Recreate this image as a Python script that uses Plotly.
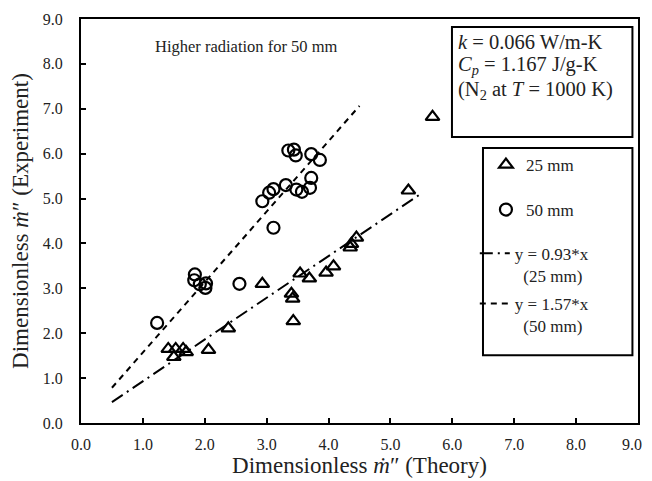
import plotly.graph_objects as go

# 25 mm data (triangles)
x25 = [1.41, 1.53, 1.65, 1.70, 1.50, 2.06, 2.38, 2.93, 3.40, 3.42, 3.43, 3.54, 3.69, 3.96, 4.08, 4.35, 4.37, 4.45, 5.29, 5.68]
y25 = [1.65, 1.65, 1.65, 1.58, 1.47, 1.63, 2.11, 3.10, 2.88, 2.77, 2.27, 3.33, 3.22, 3.35, 3.49, 3.91, 3.99, 4.13, 5.18, 6.82]

# 50 mm data (circles)
x50 = [1.23, 1.84, 1.83, 1.92, 2.02, 2.01, 2.56, 2.93, 3.04, 3.11, 3.11, 3.31, 3.35, 3.44, 3.47, 3.48, 3.57, 3.70, 3.72, 3.72, 3.86]
y50 = [2.23, 3.31, 3.18, 3.09, 3.11, 3.01, 3.10, 4.94, 5.13, 5.21, 4.35, 5.30, 6.07, 6.09, 5.96, 5.20, 5.15, 5.24, 5.46, 5.99, 5.86]

# fit lines
fit25_x = [0.5, 5.5]
fit25_y = [0.465, 5.115]
fit50_x = [0.5, 4.5]
fit50_y = [0.785, 7.065]

NB = "\u00a0"
tick_vals = [0, 1, 2, 3, 4, 5, 6, 7, 8, 9]
x_tick_text = ["0.0", "1.0", "2.0", "3.0", "4.0", "5.0", "6.0", "7.0", "8.0", "9.0" + NB * 3]
y_tick_text = ["0.0", "1.0", "2.0", "3.0", "4.0", "5.0", "6.0", "7.0", "8.0", "9.0"]

box_lines = [
    "<i>k</i> = 0.066 W/m-K",
    "<i>C<sub>p</sub></i> = 1.167 J/g-K",
    "(N<sub>2</sub> at <i>T</i> = 1000 K)",
]

FONT = "Liberation Serif, Times New Roman, serif"
TXT = "#222"

fig = go.Figure()
fig.add_trace(go.Scatter(
    x=x25, y=y25, mode="markers", name="25 mm", legend="legend",
    marker=dict(symbol="triangle-up-open", size=12, color="black", line=dict(width=2.2, color="black"))))
fig.add_trace(go.Scatter(
    x=x50, y=y50, mode="markers", name="50 mm", legend="legend2",
    marker=dict(symbol="circle-open", size=12, color="black", line=dict(width=2.2, color="black"))))
fig.add_trace(go.Scatter(
    x=fit25_x, y=fit25_y, mode="lines", name="y = 0.93*x<br>" + NB * 2 + "(25 mm)", legend="legend3",
    line=dict(color="black", width=2, dash="13px,5px,2px,5px")))
fig.add_trace(go.Scatter(
    x=fit50_x, y=fit50_y, mode="lines", name="y = 1.57*x<br>" + NB * 2 + "(50 mm)", legend="legend4",
    line=dict(color="black", width=2, dash="6px,5px")))

axis_common = dict(
    range=[0, 9], tickvals=tick_vals,
    showgrid=False, zeroline=False, automargin=False,
    showline=True, linewidth=2, linecolor="black", mirror=True,
    ticks="inside", ticklen=5, tickwidth=2, tickcolor="black",
    tickfont=dict(family=FONT, size=16, color=TXT),
    ticklabeloverflow="allow",
)

fig.update_xaxes(**axis_common, ticktext=x_tick_text, ticklabelstandoff=6,
                 title=dict(text="Dimensionless <i>ṁ</i>″ (Theory)",
                            font=dict(family=FONT, size=23, color=TXT), standoff=3))
fig.update_yaxes(**axis_common, ticktext=y_tick_text, ticklabelstandoff=13,
                 title=dict(text="Dimensionless <i>ṁ</i>″ (Experiment)",
                            font=dict(family=FONT, size=23, color=TXT), standoff=12))

fig.add_annotation(
    x=0.298, y=0.931, xref="paper", yref="paper", showarrow=False,
    text="Higher radiation for 50 mm", font=dict(family=FONT, size=16.5, color=TXT),
    xanchor="center", yanchor="middle")

# parameter box
fig.add_shape(type="rect", xref="paper", yref="paper",
              x0=0.666, x1=0.990, y0=0.708, y1=0.980,
              line=dict(color="black", width=2), fillcolor="white", layer="above")
for txt, yy in zip(box_lines, [0.943, 0.884, 0.824]):
    fig.add_annotation(
        x=0.673, y=yy, xref="paper", yref="paper", showarrow=False,
        xanchor="left", yanchor="middle", align="left",
        text=txt, font=dict(family=FONT, size=20.5, color=TXT))

# legend frame
fig.add_shape(type="rect", xref="paper", yref="paper",
              x0=0.7217, x1=0.990, y0=0.168, y1=0.681,
              line=dict(color="black", width=2), fillcolor="rgba(0,0,0,0)", layer="above")

leg_common = dict(xanchor="left", yanchor="middle", borderwidth=0, bgcolor="rgba(0,0,0,0)",
                  font=dict(family=FONT, size=17, color=TXT), itemwidth=30)

fig.update_layout(
    width=644, height=473,
    margin=dict(l=73, r=14, t=11, b=58),
    paper_bgcolor="white", plot_bgcolor="white",
    showlegend=True,
    legend=dict(x=0.727, y=0.6386, valign="middle", **leg_common),
    legend2=dict(x=0.727, y=0.5272, valign="middle", **leg_common),
    legend3=dict(x=0.707, y=0.392, valign="top", **leg_common),
    legend4=dict(x=0.707, y=0.2673, valign="top", **leg_common),
)

fig.write_html("out.html")
